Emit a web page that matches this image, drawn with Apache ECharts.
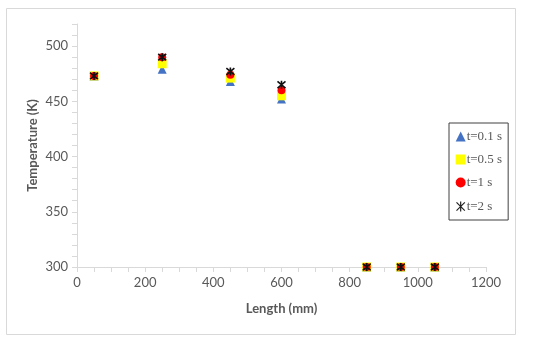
<!DOCTYPE html>
<html><head><meta charset="utf-8">
<script src="https://cdn.jsdelivr.net/npm/echarts@6/dist/echarts.min.js"></script>
<style>html,body{margin:0;padding:0;background:#fff}#c{width:550px;height:342px}</style>
</head><body><div id="c"></div>
<script>
var lengths = [50, 250, 450, 600, 850, 950, 1050];
var t01 = [473, 479, 468, 452, 300, 300, 300];
var t05 = [473, 484, 471, 455, 300, 300, 300];
var t1  = [473, 490, 474, 460, 300, 300, 300];
var t2  = [473, 490, 477, 465, 300, 300, 300];
var seriesNames = ['t=0.1 s', 't=0.5 s', 't=1 s', 't=2 s'];

function pts(v){ return lengths.map(function(x,i){ return [x, v[i]]; }); }
var star = 'path://M0,0L10,10M10,0L0,10M5,-1L5,11';
var chart = echarts.init(document.getElementById('c'));
chart.setOption({
  animation: false,
  graphic: [{type:'rect', shape:{x:6.5,y:8.5,width:509,height:326}, style:{fill:'none', stroke:'#d9d9d9', lineWidth:1}}],
  grid: {left: 77, right: 64, top: 24, bottom: 75},
  xAxis: {
    type: 'value', min: 0, max: 1200, interval: 200,
    name: 'Length (mm)', nameLocation: 'middle', nameGap: 35, nameMoveOverlap: false,
    nameTextStyle: {color:'#595959', fontSize: 13, fontWeight:'bold', fontFamily:'Lato'},
    axisLine: {show:true, lineStyle:{color:'#d9d9d9'}},
    axisTick: {show:true, length:5, lineStyle:{color:'#d9d9d9'}},
    minorTick: {show:true, splitNumber:4, length:5, lineStyle:{color:'#d9d9d9'}},
    splitLine: {show:false},
    axisLabel: {color:'#595959', fontSize:13, fontFamily:'Lato', margin:9, formatter: function(v){ return String(v); }}
  },
  yAxis: {
    type: 'value', min: 300, max: 520, interval: 50,
    name: 'Temperature (K)', nameLocation: 'middle', nameGap: 38, nameMoveOverlap: false,
    nameTextStyle: {color:'#595959', fontSize: 13, fontWeight:'bold', fontFamily:'Lato'},
    axisLine: {show:true, lineStyle:{color:'#d9d9d9'}},
    axisTick: {show:true, length:5, lineStyle:{color:'#d9d9d9'}},
    minorTick: {show:true, splitNumber:5, length:5, lineStyle:{color:'#d9d9d9'}},
    splitLine: {show:false},
    axisLabel: {color:'#595959', fontSize:13, fontFamily:'Lato', margin:9, showMaxLabel:false}
  },
  legend: {
    orient: 'vertical', left: 449, top: 123, width: 57,
    backgroundColor: '#fff', borderColor: '#404040', borderWidth: 1,
    padding: [7, 6, 6, 5], itemGap: 10, itemWidth: 10, itemHeight: 10,
    textStyle: {color:'#595959', fontSize:13, fontFamily:'Liberation Serif', padding:[0,0,0,-4]},
    data: [
      {name: seriesNames[0], icon: 'triangle'},
      {name: seriesNames[1], icon: 'rect'},
      {name: seriesNames[2], icon: 'circle'},
      {name: seriesNames[3], icon: star, itemStyle:{color:'none', borderColor:'#222', borderWidth:1.2}}
    ]
  },
  series: [
    {name: seriesNames[0], type:'scatter', data: pts(t01), symbol:'triangle', symbolSize:9, itemStyle:{color:'#4472c4', opacity:1}},
    {name: seriesNames[1], type:'scatter', data: pts(t05), symbol:'rect', symbolSize:9, itemStyle:{color:'#ffff00', opacity:1}},
    {name: seriesNames[2], type:'scatter', data: pts(t1), symbol:'circle', symbolSize:8, itemStyle:{color:'#ff0000', opacity:1}},
    {name: seriesNames[3], type:'scatter', data: pts(t2), symbol: star, symbolSize:8, itemStyle:{color:'none', borderColor:'#111', borderWidth:1.6, opacity:1}}
  ]
});
</script></body></html>
